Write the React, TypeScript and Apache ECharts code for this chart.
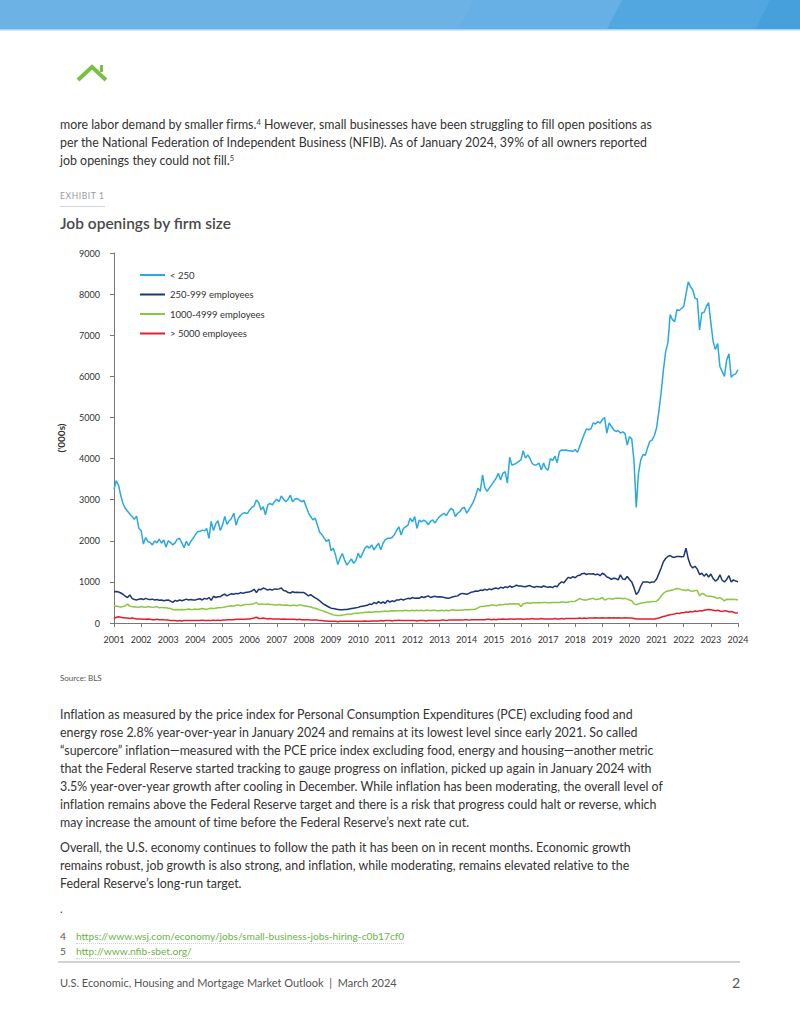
import React, { useEffect, useRef } from "react";
import * as echarts from "echarts";

// ---- DATA (monthly, Jan 2001 – Jan 2024, thousands) ----
const seriesNames = ["< 250", "250-999 employees", "1000-4999 employees", "> 5000 employees"];
const firstYear = 2001;
const lastYear = 2024;

const under250 = [
  3250, 3460, 3350, 3100, 2900, 2790, 2720, 2650, 2590, 2520, 2600, 2300,
  2250, 1920, 2080, 1980, 1960, 1900, 2000, 1950, 2040, 1940, 2020, 1850,
  2000, 1960, 1900, 1950, 2040, 2060, 1950, 1830, 1990, 1880, 1990, 2060,
  2150, 2220, 2230, 2260, 2240, 2300, 2060, 2470, 2250, 2410, 2490, 2250,
  2380, 2590, 2400, 2490, 2550, 2670, 2380, 2550, 2620, 2670, 2680, 2660,
  2750, 2810, 2850, 2990, 2930, 2750, 2830, 2630, 2870, 2910, 2870, 2950,
  3010, 2950, 3090, 3010, 2950, 3010, 3110, 2950, 3010, 3030, 2990, 2950,
  2980, 2830, 2680, 2590, 2510, 2550, 2380, 2200, 2150, 2060, 1980, 2040,
  1760, 1820, 1650, 1420, 1580, 1690, 1530, 1410, 1480, 1560, 1450, 1520,
  1700, 1580, 1700, 1820, 1870, 1820, 1900, 1780, 1860, 1940, 1780, 1940,
  2030, 2060, 2060, 2080, 2150, 2250, 2340, 2140, 2300, 2340, 2380, 2550,
  2460, 2590, 2300, 2500, 2460, 2500, 2470, 2390, 2470, 2510, 2430, 2520,
  2590, 2630, 2670, 2610, 2710, 2790, 2750, 2590, 2670, 2710, 2790, 2810,
  2670, 2760, 2850, 2950, 3100, 3280, 3200, 3600, 3300, 3200, 3280, 3360,
  3440, 3520, 3640, 3480, 3640, 3680, 3400, 4030, 3840, 3860, 3890, 3930,
  3970, 4190, 4010, 4090, 4000, 3880, 3840, 3850, 3890, 3720, 3890, 3760,
  3720, 4000, 3950, 4060, 3900, 4170, 4210, 4200, 4210, 4190, 4190, 4170,
  4220, 4150, 4300, 4450, 4600, 4720, 4700, 4730, 4870, 4840, 4900, 4860,
  4950, 5000, 4620, 4870, 4780, 4700, 4660, 4680, 4620, 4650, 4610, 4330,
  4530, 4480, 3950, 2810, 3650, 3970, 4100, 4080, 4260, 4420, 4450, 4560,
  4750, 5150, 5600, 6150, 6600, 6820, 7500, 7380, 7330, 7620, 7600, 7650,
  7700, 8000, 8300, 8180, 8100, 7900, 7880, 7130, 7540, 7560, 7700, 7790,
  7300, 6850, 6650, 6800, 6240, 6120, 6000, 6400, 6550, 5980, 6040, 6060,
  6160,
];

const emp250to999 = [
  760, 765, 755, 730, 700, 650, 620, 680, 600, 570, 560, 580,
  590, 570, 600, 580, 570, 580, 560, 570, 555, 560, 540, 555,
  560, 530, 500, 550, 530, 560, 540, 560, 580, 560, 570, 560,
  560, 580, 590, 560, 600, 580, 620, 550, 650, 620, 640, 640,
  680, 700, 660, 690, 710, 700, 720, 710, 740, 720, 740, 750,
  760, 780, 820, 740, 820, 810, 850, 830, 800, 820, 800, 830,
  820, 830, 850, 790, 780, 740, 730, 760, 740, 750, 740, 740,
  740, 700, 660, 690, 650, 610, 580, 540, 490, 450, 420, 390,
  360, 350, 340, 330, 320, 320, 330, 330, 340, 350, 360, 370,
  380, 400, 410, 420, 430, 460, 450, 500, 470, 520, 480, 510,
  480, 550, 510, 540, 520, 560, 560, 580, 560, 580, 600, 590,
  620, 600, 610, 600, 640, 620, 640, 660, 620, 640, 650, 630,
  640, 630, 620, 610, 600, 620, 640, 650, 660, 700, 720, 710,
  700, 720, 750, 760, 780, 770, 800, 790, 820, 800, 830, 810,
  840, 850, 830, 870, 850, 880, 860, 900, 870, 890, 920, 900,
  900, 890, 880, 900, 910, 880, 870, 890, 880, 870, 900, 880,
  870, 880, 860, 900, 880, 960, 1000, 980, 1050, 1110, 1090, 1130,
  1100, 1150, 1160, 1200, 1210, 1180, 1200, 1190, 1200, 1170, 1190, 1150,
  1210, 1180, 1120, 1100, 1060, 1090, 1080, 1050, 1170, 1070, 1060, 1130,
  1060, 1000, 860, 690, 760, 900, 1000, 1000, 1000, 980, 1000, 1000,
  1070, 1200, 1340, 1490, 1570, 1620, 1640, 1600, 1600, 1620, 1620, 1610,
  1620, 1820, 1560, 1400, 1340, 1380, 1310, 1180, 1210, 1140, 1200, 1120,
  1190, 1080, 1020, 1060, 1170, 1040, 1000, 1060, 1150, 1000, 1050, 1020,
  1000,
];

const emp1000to4999 = [
  420, 410, 400, 390, 400, 420, 460, 410, 400, 390, 390, 380,
  400, 390, 380, 400, 390, 380, 390, 400, 370, 380, 370, 370,
  360, 350, 330, 320, 330, 320, 330, 320, 330, 340, 330, 330,
  340, 330, 340, 350, 340, 330, 350, 360, 350, 360, 370, 370,
  380, 390, 400, 410, 420, 410, 430, 440, 420, 440, 450, 450,
  450, 460, 470, 500, 450, 460, 460, 450, 460, 450, 450, 440,
  440, 450, 440, 430, 440, 430, 420, 430, 430, 420, 440, 430,
  420, 410, 400, 390, 370, 360, 340, 320, 300, 280, 260, 240,
  220, 200, 185, 180, 185, 195, 200, 210, 215, 220, 230, 235,
  240, 250, 250, 260, 260, 270, 260, 270, 280, 270, 280, 280,
  290, 280, 290, 300, 290, 300, 300, 300, 300, 310, 300, 300,
  310, 300, 310, 300, 310, 300, 310, 310, 300, 310, 310, 300,
  300, 310, 300, 310, 300, 310, 320, 310, 310, 310, 310, 320,
  320, 320, 330, 330, 340, 370, 400, 400, 410, 420, 420, 440,
  440, 420, 440, 450, 440, 460, 450, 470, 460, 470, 460, 470,
  400, 470, 480, 490, 480, 490, 490, 490, 500, 490, 500, 500,
  490, 490, 500, 500, 500, 500, 510, 510, 500, 510, 520, 520,
  530, 560, 600, 570, 560, 560, 580, 590, 600, 570, 580, 590,
  620, 560, 580, 600, 580, 590, 600, 600, 600, 590, 600, 580,
  560, 540, 470, 440, 470, 480, 490, 500, 510, 510, 520, 520,
  530, 580, 660, 720, 760, 780, 790, 800, 820, 840, 830, 810,
  800, 790, 810, 780, 770, 790, 790, 660, 720, 700, 660, 650,
  650, 640, 620, 600, 620, 580, 540, 580, 570, 580, 570, 570,
  560,
];

const over5000 = [
  110, 140, 150, 140, 130, 120, 120, 110, 120, 110, 100, 100,
  100, 90, 90, 100, 90, 80, 80, 90, 80, 80, 80, 70,
  70, 60, 60, 60, 50, 60, 50, 60, 60, 60, 60, 60,
  60, 60, 60, 70, 60, 60, 60, 60, 70, 60, 70, 60,
  70, 70, 80, 80, 80, 80, 90, 90, 90, 90, 90, 100,
  100, 110, 120, 140, 110, 110, 120, 110, 100, 110, 100, 100,
  100, 100, 90, 100, 90, 90, 90, 90, 90, 80, 90, 80,
  80, 80, 80, 70, 70, 70, 70, 60, 60, 50, 50, 40,
  40, 40, 40, 30, 40, 40, 40, 40, 40, 40, 40, 40,
  40, 40, 40, 50, 40, 40, 50, 50, 50, 50, 60, 50,
  60, 60, 60, 50, 60, 60, 70, 60, 60, 60, 60, 60,
  60, 60, 50, 60, 60, 60, 50, 60, 60, 60, 60, 60,
  60, 70, 70, 60, 70, 70, 70, 70, 70, 70, 70, 80,
  80, 70, 80, 80, 80, 80, 80, 80, 80, 90, 90, 80,
  90, 80, 90, 90, 100, 90, 90, 100, 100, 90, 100, 100,
  100, 90, 100, 100, 100, 110, 100, 100, 100, 110, 100, 100,
  100, 100, 100, 110, 100, 100, 110, 100, 110, 110, 110, 110,
  110, 110, 120, 110, 120, 110, 120, 120, 120, 130, 120, 120,
  130, 120, 120, 130, 120, 130, 120, 130, 120, 120, 130, 120,
  120, 120, 110, 100, 100, 100, 100, 100, 100, 100, 100, 100,
  110, 120, 140, 160, 170, 190, 200, 210, 220, 240, 230, 250,
  250, 270, 260, 280, 270, 290, 280, 300, 290, 310, 320, 330,
  320, 310, 300, 310, 290, 280, 300, 290, 270, 280, 260, 240,
  250,
];

const seriesValues = [under250, emp250to999, emp1000to4999, over5000];
const seriesColors = ["#29a9e1", "#1d3675", "#8cc63f", "#e0202e"];

const FONT = "Lato, 'Open Sans', sans-serif";

const para1 = [
  ["more labor demand by smaller firms.", "4", " However, small businesses have been struggling to fill open positions as"],
  ["per the National Federation of Independent Business (NFIB). As of January 2024, 39% of all owners reported"],
  ["job openings they could not fill.", "5", ""],
];
const para2 = [
  "Inflation as measured by the price index for Personal Consumption Expenditures (PCE) excluding food and",
  "energy rose 2.8% year-over-year in January 2024 and remains at its lowest level since early 2021. So called",
  "\u201Csupercore\u201D inflation\u2014measured with the PCE price index excluding food, energy and housing\u2014another metric",
  "that the Federal Reserve started tracking to gauge progress on inflation, picked up again in January 2024 with",
  "3.5% year-over-year growth after cooling in December. While inflation has been moderating, the overall level of",
  "inflation remains above the Federal Reserve target and there is a risk that progress could halt or reverse, which",
  "may increase the amount of time before the Federal Reserve\u2019s next rate cut.",
];
const para3 = [
  "Overall, the U.S. economy continues to follow the path it has been on in recent months. Economic growth",
  "remains robust, job growth is also strong, and inflation, while moderating, remains elevated relative to the",
  "Federal Reserve\u2019s long-run target.",
];

function Chart() {
  const ref = useRef<HTMLDivElement>(null);
  useEffect(() => {
    if (!ref.current) return;
    const chart = echarts.init(ref.current, undefined, { renderer: "svg" });
    chart.setOption({
      animation: false,
      grid: { left: 114, right: 62, top: 18, bottom: 37 },
      legend: {
        orient: "vertical",
        left: 135,
        top: 30,
        icon: "rect",
        itemWidth: 25,
        itemHeight: 2,
        itemGap: 9.5,
        textStyle: { fontSize: 9.5, color: "#333", fontFamily: FONT },
        data: seriesNames,
      },
      xAxis: {
        type: "value",
        min: firstYear,
        max: lastYear,
        interval: 1,
        axisLine: { show: true, lineStyle: { color: "#777", width: 1 } },
        axisTick: { show: true, length: 4, lineStyle: { color: "#777" } },
        splitLine: { show: false },
        axisLabel: {
          fontSize: 9,
          color: "#333",
          fontFamily: FONT,
          margin: 12,
          formatter: (v: number) => String(v),
        },
      },
      yAxis: {
        type: "value",
        min: 0,
        max: 9000,
        interval: 1000,
        name: "('000s)",
        nameLocation: "middle",
        nameGap: 48,
        nameTextStyle: { fontSize: 10, fontWeight: "bold", color: "#333", fontFamily: FONT },
        axisLine: { show: true, lineStyle: { color: "#777", width: 1 } },
        axisTick: { show: true, length: 4, lineStyle: { color: "#777" } },
        splitLine: { show: false },
        axisLabel: {
          fontSize: 9,
          color: "#333",
          fontFamily: FONT,
          margin: 14,
          formatter: (v: number) => String(v),
        },
      },
      series: seriesNames.map((name, k) => ({
        name,
        type: "line",
        showSymbol: false,
        symbol: "none",
        lineStyle: { width: 1.5, color: seriesColors[k] },
        itemStyle: { color: seriesColors[k] },
        data: seriesValues[k].map((v, i) => [firstYear + i / 12, v]),
        z: 10 - k,
      })),
    });
    return () => chart.dispose();
  }, []);
  return <div ref={ref} style={{ position: "absolute", left: 0, top: 235, width: 800, height: 425 }} />;
}

const bodyText: React.CSSProperties = {
  position: "absolute",
  left: 60,
  fontFamily: FONT,
  fontSize: 12.4,
  color: "#333",
  whiteSpace: "nowrap",
  lineHeight: "18px",
  fontVariantLigatures: "none",
};

export default function App() {
  return (
    <div style={{ position: "absolute", left: 0, top: 0, width: 800, height: 1035, background: "#fff", overflow: "hidden" }}>
      {/* header band */}
      <svg width={800} height={32} style={{ position: "absolute", left: 0, top: 0 }}>
        <rect x={0} y={0} width={800} height={29} fill="#6cb2e5" />
        <polygon points="474,0 622,0 607,29 459,29" fill="#66b0e5" />
        <polygon points="622,0 770,0 755,29 607,29" fill="#52a7e0" />
        <polygon points="770,0 800,0 800,29 755,29" fill="#45a0dc" />
        <rect x={0} y={29} width={800} height={1.5} fill="#a6d6f6" />
      </svg>
      {/* logo */}
      <svg width={40} height={22} style={{ position: "absolute", left: 74, top: 62 }}>
        <polyline points="4,18 18,5 32,18" fill="none" stroke="#7ac143" strokeWidth={4} strokeLinejoin="miter" />
        <rect x={26} y={3} width={3} height={7} fill="#7ac143" />
      </svg>

      {/* paragraph 1 */}
      {para1.map((parts, i) => (
        <div key={"p1" + i} style={{ ...bodyText, top: 116 + i * 18 }}>
          {parts[0]}
          {parts[1] ? <sup style={{ fontSize: 7.5, verticalAlign: "4px", lineHeight: 0 }}>{parts[1]}</sup> : null}
          {parts[2] || null}
        </div>
      ))}

      {/* exhibit label */}
      <div style={{ position: "absolute", left: 60, top: 191, fontFamily: FONT, fontSize: 8.5, letterSpacing: 0.6, color: "#9a9a9a" }}>
        EXHIBIT 1
      </div>
      <div style={{ position: "absolute", left: 60, top: 206, width: 45, height: 1, background: "#d6d6d6" }} />
      <div style={{ position: "absolute", left: 60, top: 214, fontFamily: FONT, fontSize: 15.5, fontWeight: 600, color: "#4a4a4a" }}>
        Job openings by firm size
      </div>

      <Chart />

      <div style={{ position: "absolute", left: 60, top: 673, fontFamily: FONT, fontSize: 8, color: "#555" }}>Source: BLS</div>

      {para2.map((t, i) => (
        <div key={"p2" + i} style={{ ...bodyText, top: 706 + i * 18 }}>{t}</div>
      ))}
      {para3.map((t, i) => (
        <div key={"p3" + i} style={{ ...bodyText, top: 839 + i * 18 }}>{t}</div>
      ))}

      <div style={{ position: "absolute", left: 60, top: 902, fontFamily: FONT, fontSize: 11, color: "#333" }}>.</div>

      {/* footnotes */}
      <div style={{ position: "absolute", left: 60, top: 929, fontFamily: FONT, fontSize: 10.2, color: "#555", lineHeight: "14px" }}>4</div>
      <div style={{ position: "absolute", left: 76, top: 929, fontFamily: FONT, fontSize: 10.2, color: "#6db24a", lineHeight: "14px", borderBottom: "1px dotted #cfcfcf", whiteSpace: "nowrap" }}>
        https://www.wsj.com/economy/jobs/small-business-jobs-hiring-c0b17cf0
      </div>
      <div style={{ position: "absolute", left: 60, top: 944, fontFamily: FONT, fontSize: 10.2, color: "#555", lineHeight: "14px" }}>5</div>
      <div style={{ position: "absolute", left: 76, top: 944, fontFamily: FONT, fontSize: 10.2, color: "#6db24a", lineHeight: "14px", borderBottom: "1px dotted #cfcfcf", whiteSpace: "nowrap" }}>
        http://www.nfib-sbet.org/
      </div>

      <div style={{ position: "absolute", left: 58, top: 961, width: 682, height: 1.5, background: "#d2d2d2" }} />

      <div style={{ position: "absolute", left: 60, top: 976, fontFamily: FONT, fontSize: 11, color: "#555", whiteSpace: "nowrap" }}>
        U.S. Economic, Housing and Mortgage Market Outlook&nbsp;&nbsp;|&nbsp;&nbsp;March 2024
      </div>
      <div style={{ position: "absolute", right: 60, top: 974, fontFamily: FONT, fontSize: 14, color: "#555" }}>2</div>
    </div>
  );
}
